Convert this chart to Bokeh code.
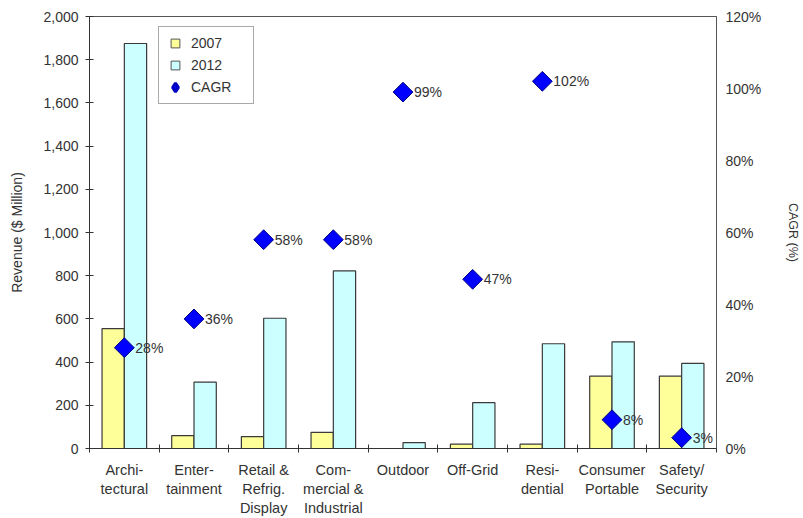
from bokeh.plotting import figure
from bokeh.models import (Range1d, LinearAxis, FixedTicker, NumeralTickFormatter,
                          PrintfTickFormatter, Legend, LegendItem, ColumnDataSource)
from bokeh.core.properties import value
from bokeh.embed import file_html
from bokeh.resources import INLINE
import math

categories = ["Archi-\ntectural", "Enter-\ntainment", "Retail &\nRefrig.\nDisplay",
              "Com-\nmercial &\nIndustrial", "Outdoor", "Off-Grid", "Resi-\ndential",
              "Consumer\nPortable", "Safety/\nSecurity"]
rev_2007 = [555, 60, 55, 75, 0, 20, 20, 335, 335]
rev_2012 = [1875, 307, 603, 822, 27, 212, 485, 494, 394]
cagr = [28, 36, 58, 58, 99, 47, 102, 8, 3]
cagr_labels = ["28%", "36%", "58%", "58%", "99%", "47%", "102%", "8%", "3%"]
left_ticks = [0, 200, 400, 600, 800, 1000, 1200, 1400, 1600, 1800, 2000]
right_ticks = [0, 20, 40, 60, 80, 100, 120]

FONT = "Liberation Sans"
TXT = "#333333"
Y07 = "#FFFF99"
C12 = "#CCFFFF"
BLUE = "#0000FF"

n = len(categories)
centers = [i + 0.5 for i in range(n)]
bar_w = 0.32
src = ColumnDataSource(dict(
    xc=centers,
    x07=[c - bar_w / 2 for c in centers],
    x12=[c + bar_w / 2 for c in centers],
    r07=rev_2007, r12=rev_2012, cagr=cagr, lab=cagr_labels,
))

p = figure(width=803, height=518, output_backend="svg", toolbar_location=None,
           x_range=Range1d(0, n), y_range=Range1d(0, 2000),
           min_border_left=89, min_border_right=80, min_border_top=16, min_border_bottom=65)
p.background_fill_color = "white"
p.border_fill_color = "white"
p.outline_line_color = "#555555"
p.outline_line_width = 1
p.xgrid.visible = False
p.ygrid.visible = False

p.extra_y_ranges = {"cagr": Range1d(0, 120),
                    "legend_only": Range1d(1e6, 2e6)}  # keeps legend-key glyphs off the chart

p.vbar(x="x07", top="r07", width=bar_w, source=src, fill_color=Y07,
       line_color="#3a3a3a", line_width=1.2)
p.vbar(x="x12", top="r12", width=bar_w, source=src, fill_color=C12,
       line_color="#3a3a3a", line_width=1.2)
p.scatter(x="xc", y="cagr", y_range_name="cagr", source=src, marker="square",
          angle=math.pi / 4, size=14, fill_color=BLUE, line_color="#000080",
          line_width=1)
p.text(x="xc", y="cagr", text="lab", y_range_name="cagr", source=src,
       x_offset=11, text_baseline="middle", text_align="left",
       text_font=value(FONT), text_font_size="14px", text_color=TXT)

# legend key glyphs, drawn on an off-screen range so only the legend shows them
l07 = p.scatter(x="xc", y="r07", y_range_name="legend_only", source=src, marker="square",
                fill_color=Y07, line_color="#555555", line_width=1)
l12 = p.scatter(x="xc", y="r12", y_range_name="legend_only", source=src, marker="square",
                fill_color=C12, line_color="#555555", line_width=1)
lcg = p.scatter(x="xc", y="cagr", y_range_name="legend_only", source=src, marker="diamond",
                fill_color=BLUE, line_color="#0000C0", line_width=3)

# x axis
xa = p.xaxis[0]
xa.ticker = FixedTicker(ticks=centers, minor_ticks=list(range(n + 1)))
xa.major_label_overrides = {c: lab for c, lab in zip(centers, categories)}
xa.major_tick_line_color = None
xa.major_tick_in = 0
xa.major_tick_out = 0
xa.minor_tick_in = 4
xa.minor_tick_out = 4
xa.minor_tick_line_color = "#333333"
xa.axis_line_color = "#333333"
xa.major_label_standoff = 9
xa.major_label_text_font = FONT
xa.major_label_text_font_size = "14.5px"
xa.major_label_text_color = TXT
xa.major_label_text_line_height = 1.2

# left axis
ya = p.yaxis[0]
ya.ticker = FixedTicker(ticks=left_ticks)
ya.formatter = NumeralTickFormatter(format="0,0")
ya.major_tick_in = 4
ya.major_tick_out = 4
ya.minor_tick_line_color = None
ya.major_tick_line_color = "#333333"
ya.axis_line_color = "#333333"
ya.major_label_standoff = 7
ya.major_label_text_font = FONT
ya.major_label_text_font_size = "14px"
ya.major_label_text_color = TXT
ya.axis_label = "Revenue ($ Million)"
ya.axis_label_text_font = FONT
ya.axis_label_text_font_size = "14px"
ya.axis_label_text_font_style = "normal"
ya.axis_label_text_color = TXT
ya.axis_label_standoff = 15

# right axis
ra = LinearAxis(y_range_name="cagr", ticker=FixedTicker(ticks=right_ticks),
                formatter=PrintfTickFormatter(format="%d%%"))
ra.major_tick_line_color = None
ra.minor_tick_line_color = None
ra.major_tick_in = 0
ra.major_tick_out = 0
ra.axis_line_color = "#555555"
ra.major_label_standoff = 9
ra.major_label_text_font = FONT
ra.major_label_text_font_size = "14px"
ra.major_label_text_color = TXT
ra.axis_label = "CAGR (%)"
ra.axis_label_text_font = FONT
ra.axis_label_text_font_size = "12.5px"
ra.axis_label_text_font_style = "normal"
ra.axis_label_text_color = TXT
ra.axis_label_standoff = 22
p.add_layout(ra, "right")

legend = Legend(items=[LegendItem(label="2007", renderers=[l07]),
                       LegendItem(label="2012", renderers=[l12]),
                       LegendItem(label="CAGR", renderers=[lcg])],
                location=(69, 344))
legend.label_text_font = FONT
legend.label_text_font_size = "14px"
legend.label_text_color = TXT
legend.glyph_width = 22
legend.glyph_height = 22
legend.label_height = 22
legend.label_width = 57
legend.label_standoff = 5
legend.spacing = 0
legend.padding = 5
legend.margin = 0
legend.border_line_color = "#555555"
legend.border_line_width = 1.5
legend.background_fill_color = "white"
p.add_layout(legend)

open("out.html", "w").write(file_html(p, INLINE))
